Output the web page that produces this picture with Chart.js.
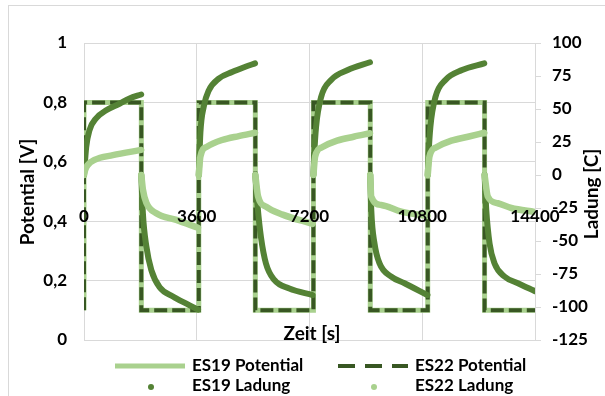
<!DOCTYPE html>
<html>
<head>
<meta charset="utf-8">
<script src="https://cdn.jsdelivr.net/npm/chart.js@4.4.1/dist/chart.umd.min.js"></script>
<style>
  html, body { margin: 0; padding: 0; background: #fff; }
  canvas { display: block; }
</style>
</head>
<body>
<canvas id="chart-es" width="605" height="396" style="width:605px;height:396px"></canvas>
<script>
// Potential (square wave), time in s
const potTime = [0, 0, 1830, 1830, 3665, 3665, 5470, 5470, 7325, 7325, 9140, 9140, 10975, 10975, 12790, 12790, 14400];
const es19Pot = [0.1, 0.8, 0.8, 0.1, 0.1, 0.8, 0.8, 0.1, 0.1, 0.8, 0.8, 0.1, 0.1, 0.8, 0.8, 0.1, 0.1];
const es22Pot = [0.1, 0.8, 0.8, 0.1, 0.1, 0.8, 0.8, 0.1, 0.1, 0.8, 0.8, 0.1, 0.1, 0.8, 0.8, 0.1, 0.1];

// Ladung, one sub-array per charge / discharge step
const es19Time = [
    [0, 70, 176, 390, 709, 1133, 1453, 1826],
    [1830, 1880, 1990, 2150, 2415, 2840, 3270, 3640],
    [3665, 3716, 3825, 3984, 4304, 4729, 5153, 5460],
    [5470, 5544, 5650, 5810, 6077, 6556, 7300],
    [7325, 7350, 7410, 7570, 7890, 8421, 9130],
    [9140, 9172, 9277, 9437, 9811, 10235, 10965],
    [10975, 11000, 11060, 11220, 11540, 12070, 12780],
    [12790, 12844, 12950, 13109, 13429, 13854, 14400],
];
const es19Charge = [
    [0, 21, 34, 43, 49, 54, 58, 61],
    [0, -29, -54, -72, -85, -92, -97.5, -102],
    [0, 32, 52, 64, 73, 78, 82, 84.6],
    [0, -24, -47, -67, -79.5, -86, -91],
    [0, 15, 36.6, 59, 72, 79.5, 85.4],
    [0, -26.5, -52, -67, -77, -82, -91],
    [0, 15, 36.6, 59, 72, 79.5, 84.6],
    [0, -26.5, -52, -67, -77, -82, -88],
];
const es22Time = [
    [0, 40, 121, 335, 920, 1826],
    [1830, 1881, 1990, 2309, 2948, 3637],
    [3665, 3716, 3930, 4409, 4942, 5460],
    [5470, 5560, 5810, 6342, 7300],
    [7325, 7380, 7600, 8080, 8610, 9130],
    [9140, 9172, 9491, 10130, 10965],
    [10975, 11030, 11250, 11730, 12260, 12780],
    [12790, 12895, 13214, 13641, 14400],
];
const es22Charge = [
    [0, 4, 7.6, 11.4, 15, 19],
    [0, -11, -21, -29, -34, -40],
    [0, 14, 21.5, 26.5, 29.5, 32],
    [0, -16.4, -24, -30, -37],
    [0, 14, 21, 26, 29, 31.6],
    [0, -16.4, -22.7, -27.8, -31],
    [0, 14, 21, 26, 29, 32],
    [0, -16.4, -21.4, -25, -28],
];

const xTickLabels = ["0", "3600", "7200", "10800", "14400"];
const seriesLabels = ["ES19 Potential", "ES22 Potential", "ES19 Ladung", "ES22 Ladung"];

const lightGreen = "#a9d18e";
const darkGreen = "#385723";
const midGreen = "#548235";
const FONT = "Lato";

function linePoints(times, values) {
    return times.map((t, i) => ({ x: t, y: values[i] }));
}

// steps are separated by a null so the line breaks between them
function stepPoints(times, values) {
    const pts = [];
    times.forEach((seg, i) => {
        seg.forEach((t, j) => pts.push({ x: t, y: values[i][j] }));
        pts.push({ x: seg[seg.length - 1], y: null });
    });
    return pts;
}

const data = {
    datasets: [
        {
            label: seriesLabels[0],
            data: linePoints(potTime, es19Pot),
            yAxisID: "yL",
            showLine: true,
            borderColor: lightGreen,
            backgroundColor: lightGreen,
            borderWidth: 5,
            pointRadius: 0,
            order: 4,
        },
        {
            label: seriesLabels[1],
            data: linePoints(potTime, es22Pot),
            yAxisID: "yL",
            showLine: true,
            borderColor: darkGreen,
            backgroundColor: darkGreen,
            borderWidth: 4,
            borderDash: [13, 5],
            pointRadius: 0,
            order: 3,
        },
        {
            label: seriesLabels[2],
            data: stepPoints(es19Time, es19Charge),
            yAxisID: "yR",
            showLine: true,
            borderColor: midGreen,
            backgroundColor: midGreen,
            borderWidth: 6,
            borderCapStyle: "round",
            borderJoinStyle: "round",
            cubicInterpolationMode: "monotone",
            pointRadius: 0,
            order: 2,
        },
        {
            label: seriesLabels[3],
            data: stepPoints(es22Time, es22Charge),
            yAxisID: "yR",
            showLine: true,
            borderColor: lightGreen,
            backgroundColor: lightGreen,
            borderWidth: 6.5,
            borderCapStyle: "round",
            borderJoinStyle: "round",
            cubicInterpolationMode: "monotone",
            pointRadius: 0,
            order: 1,
        },
    ],
};

// white background + the thin frame of the chart object
const framePlugin = {
    id: "frame",
    beforeDraw(chart) {
        const ctx = chart.ctx;
        ctx.save();
        ctx.fillStyle = "#fff";
        ctx.fillRect(0, 0, chart.width, chart.height);
        ctx.strokeStyle = "#d9d9d9";
        ctx.lineWidth = 1;
        ctx.strokeRect(8.5, 5.5, 700, 500);
        ctx.restore();
    },
};

// x labels sit inside the plot (like in the excel sheet), titles and legend
const textPlugin = {
    id: "texts",
    afterDraw(chart) {
        const ctx = chart.ctx;
        const x = chart.scales.x;
        ctx.save();
        ctx.fillStyle = "#000";
        ctx.font = "bold 17px " + FONT;
        ctx.textAlign = "center";
        ctx.textBaseline = "alphabetic";
        xTickLabels.forEach(l => ctx.fillText(l, x.getPixelForValue(Number(l)), 222));

        ctx.font = "bold 19px " + FONT;
        ctx.fillText("Zeit [s]", 312, 340);
        ctx.textBaseline = "middle";
        ctx.translate(28, 192);
        ctx.rotate(-Math.PI / 2);
        ctx.fillText("Potential [V]", 0, 0);
        ctx.setTransform(1, 0, 0, 1, 0, 0);
        ctx.translate(592, 194);
        ctx.rotate(-Math.PI / 2);
        ctx.fillText("Ladung [C]", 0, 0);
        ctx.setTransform(1, 0, 0, 1, 0, 0);

        // legend, 2 x 2
        const cols = [115, 338];
        const rows = [366, 386];
        ctx.font = "bold 17px " + FONT;
        ctx.textAlign = "left";
        chart.data.datasets.forEach((ds, i) => {
            const x0 = cols[i % 2];
            const y0 = rows[Math.floor(i / 2)];
            if (ds.yAxisID === "yL") {
                ctx.strokeStyle = ds.borderColor;
                ctx.lineWidth = ds.borderWidth;
                ctx.setLineDash(ds.borderDash ? [17, 10] : []);
                ctx.beginPath();
                ctx.moveTo(x0, y0);
                ctx.lineTo(x0 + 70, y0);
                ctx.stroke();
                ctx.setLineDash([]);
            } else {
                ctx.fillStyle = ds.borderColor;
                ctx.beginPath();
                ctx.arc(x0 + 36, y0 + 1, 3, 0, Math.PI * 2);
                ctx.fill();
            }
            ctx.fillStyle = "#000";
            ctx.fillText(ds.label, x0 + 77, y0);
        });
        ctx.restore();
    },
};

const config = {
    type: "scatter",
    data: data,
    options: {
        responsive: false,
        animation: false,
        layout: { padding: { top: 43, bottom: 56, left: 0, right: 0 } },
        plugins: {
            legend: { display: false },
            tooltip: { enabled: false },
        },
        scales: {
            x: {
                type: "linear",
                min: 0,
                max: 14400,
                ticks: { stepSize: 3600, display: false },
                grid: { color: "#d9d9d9", drawTicks: false },
                border: { display: false },
                afterFit: s => { s.height = 0; },
            },
            yL: {
                position: "left",
                min: 0,
                max: 1,
                ticks: {
                    stepSize: 0.2,
                    padding: 17,
                    color: "#000",
                    font: { family: FONT, size: 17, weight: "bold" },
                    callback: v => String(Number(v.toFixed(1))).replace(".", ","),
                },
                grid: { color: "#d9d9d9", drawTicks: false },
                border: { display: false },
                afterFit: s => { s.width = 84; },
            },
            yR: {
                position: "right",
                min: -125,
                max: 100,
                ticks: {
                    stepSize: 25,
                    padding: 11,
                    color: "#000",
                    font: { family: FONT, size: 17, weight: "bold" },
                },
                grid: { drawOnChartArea: false, color: "#d9d9d9", tickLength: 6 },
                border: { display: true, color: "#d9d9d9" },
                afterFit: s => { s.width = 70; },
            },
        },
    },
    plugins: [framePlugin, textPlugin],
};

const canvas = document.getElementById("chart-es");
const chart = new Chart(canvas, config);
</script>
</body>
</html>
